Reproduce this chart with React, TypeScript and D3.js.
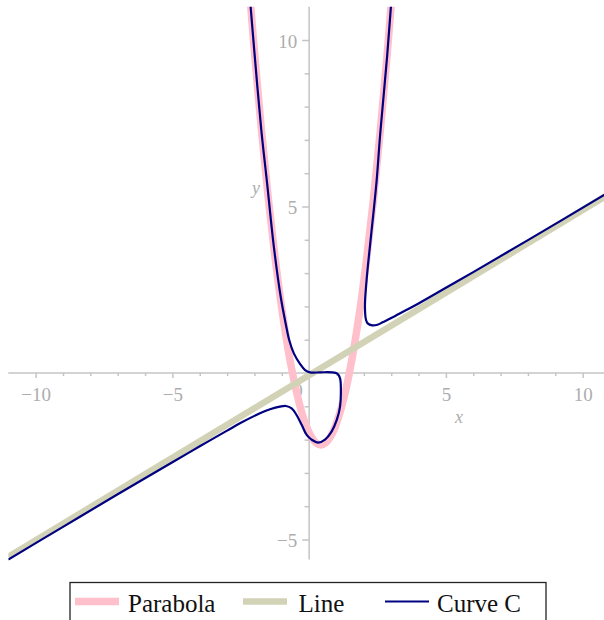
import React, { useEffect, useRef } from 'react';
import * as d3 from 'd3';

// values (x, y in plot units)
const parabolaPoints: [number, number][] = [
  [-2.2, 11.67], [-2.0, 9.65], [-1.75, 7.35], [-1.5, 5.29], [-1.25, 3.49],
  [-1.0, 1.93], [-0.75, 0.62], [-0.5, -0.43], [-0.25, -1.24], [0, -1.79],
  [0.25, -2.1], [0.43, -2.16], [0.6, -2.1], [0.85, -1.81], [1.1, -1.26],
  [1.35, -0.47], [1.6, 0.58], [1.85, 1.87], [2.1, 3.42], [2.35, 5.21],
  [2.6, 7.26], [2.85, 9.55], [3.1, 12.1],
];

const linePoints: [number, number][] = [[-11, -5.52], [11, 5.39]];

const curveCMain: [number, number][] = [
  [-2.2, 11.6], [-2.0, 9.62], [-1.75, 7.3], [-1.54, 5.72], [-1.29, 3.79],
  [-1.04, 2.29], [-0.85, 1.45], [-0.73, 0.99], [-0.56, 0.59], [-0.33, 0.27],
  [-0.15, 0.09], [0.03, 0.02], [0.4, 0.02], [0.82, 0.02], [1.03, -0.02],
  [1.13, -0.16], [1.16, -0.51], [1.13, -1.01], [1.01, -1.41], [0.82, -1.76],
  [0.58, -2.0], [0.33, -2.09], [0.09, -2.0], [-0.09, -1.86], [-0.27, -1.56],
  [-0.46, -1.26], [-0.64, -1.06], [-0.85, -0.99], [-1.07, -1.01], [-1.43, -1.09],
  [-1.8, -1.21], [-2.53, -1.51], [-3.0, -1.73], [-4.0, -2.2], [-5.0, -2.68],
  [-7.0, -3.64], [-9.0, -4.62], [-11.0, -5.6],
];

const curveCRight: [number, number][] = [
  [3.1, 12.0], [2.99, 11.0], [2.85, 9.5], [2.6, 7.2], [2.47, 5.8],
  [2.35, 4.8], [2.22, 3.79], [2.1, 2.79], [2.04, 1.99], [2.08, 1.59],
  [2.14, 1.49], [2.3, 1.43], [2.5, 1.45], [2.7, 1.53], [3.0, 1.65],
  [3.5, 1.87], [4.0, 2.09], [5.0, 2.56], [6.0, 3.03], [8.0, 3.99], [11.0, 5.45],
];

const xMajorTicks = [-10, -5, 5, 10];
const yMajorTicks = [-5, 5, 10];
const legendLabels = ['Parabola', 'Line', 'Curve C'];
const legendColors = ['#ffc0cb', '#d2d2b6', '#000080'];
const legendWidths = [7.5, 6.5, 2.2];

const W = 604;
const H = 620;

const fmt = (d: number) => (d < 0 ? '\u2212' + Math.abs(d) : String(d));

export default function App() {
  const svgRef = useRef<SVGSVGElement>(null);

  useEffect(() => {
    if (!svgRef.current) return;
    const svg = d3.select(svgRef.current);
    svg.selectAll('*').remove();

    const x = d3.scaleLinear().domain([-11, 11]).range([8.3, 610]);
    const y = d3.scaleLinear().domain([-5.6, 11]).range([559.5, 6.7]);

    const axisColor = '#c4c4c4';
    const labelColor = '#adadad';
    const serif = '"Liberation Serif", "DejaVu Serif", serif';

    // axes
    const axes = svg.append('g');
    axes.append('line')
      .attr('x1', x(-11)).attr('x2', x(11)).attr('y1', y(0)).attr('y2', y(0))
      .attr('stroke', axisColor).attr('stroke-width', 1.5);
    axes.append('line')
      .attr('x1', x(0)).attr('x2', x(0)).attr('y1', y(-5.6)).attr('y2', y(11))
      .attr('stroke', axisColor).attr('stroke-width', 1.5);

    const xMinor = d3.range(-10, 11).filter(v => v !== 0 && v % 5 !== 0);
    const yMinor = d3.range(-5, 11).filter(v => v !== 0 && v % 5 !== 0);

    const gxMinor = axes.append('g').attr('transform', `translate(0,${y(0)})`)
      .call(d3.axisBottom(x).tickValues(xMinor).tickSize(3).tickFormat(() => ''));
    const gx = axes.append('g').attr('transform', `translate(0,${y(0)})`)
      .call(d3.axisBottom(x).tickValues(xMajorTicks).tickSize(5).tickFormat(d => fmt(+d)));
    const gyMinor = axes.append('g').attr('transform', `translate(${x(0)},0)`)
      .call(d3.axisLeft(y).tickValues(yMinor).tickSize(4.5).tickFormat(() => ''));
    const gy = axes.append('g').attr('transform', `translate(${x(0)},0)`)
      .call(d3.axisLeft(y).tickValues(yMajorTicks).tickSize(7).tickFormat(d => fmt(+d)));

    [gxMinor, gx, gyMinor, gy].forEach(g => {
      g.select('.domain').remove();
      g.selectAll('line').attr('stroke', axisColor).attr('stroke-width', 1.5);
      g.selectAll('text').attr('fill', labelColor).attr('font-family', serif).attr('font-size', 19);
    });
    gx.selectAll('text').attr('y', 28).attr('dy', null);
    gy.selectAll('text').attr('x', -12).attr('dy', 7);

    axes.append('text').attr('x', 298).attr('y', 397).attr('text-anchor', 'middle')
      .attr('fill', labelColor).attr('font-family', serif).attr('font-size', 19).text('0');
    axes.append('text').attr('x', 459).attr('y', 423).attr('text-anchor', 'middle')
      .attr('fill', labelColor).attr('font-family', serif).attr('font-style', 'italic')
      .attr('font-size', 18).text('x');
    axes.append('text').attr('x', 256).attr('y', 194).attr('text-anchor', 'middle')
      .attr('fill', labelColor).attr('font-family', serif).attr('font-style', 'italic')
      .attr('font-size', 18).text('y');

    // curves
    svg.append('defs').append('clipPath').attr('id', 'plot-clip')
      .append('rect').attr('x', x(-11)).attr('y', y(11))
      .attr('width', x(11) - x(-11)).attr('height', y(-5.6) - y(11) + 3);

    const path = d3.line<[number, number]>()
      .x(d => x(d[0])).y(d => y(d[1]))
      .curve(d3.curveCatmullRom.alpha(0.5));

    const plot = svg.append('g').attr('clip-path', 'url(#plot-clip)');
    const series: [number, number][][][] = [[parabolaPoints], [linePoints], [curveCMain, curveCRight]];
    series.forEach((parts, i) => {
      parts.forEach(pts => {
        plot.append('path').attr('d', path(pts))
          .attr('fill', 'none').attr('stroke', legendColors[i])
          .attr('stroke-width', legendWidths[i]).attr('stroke-linejoin', 'round');
      });
    });

    // legend
    const legend = svg.append('g');
    legend.append('rect').attr('x', 70).attr('y', 582.5).attr('width', 476).attr('height', 60)
      .attr('fill', '#fff').attr('stroke', '#222').attr('stroke-width', 1.3);
    const swatchX = [75, 243, 385];
    const textX = [128, 298.5, 437];
    legendLabels.forEach((label, i) => {
      legend.append('line').attr('x1', swatchX[i]).attr('x2', swatchX[i] + 44)
        .attr('y1', 601.5).attr('y2', 601.5)
        .attr('stroke', legendColors[i]).attr('stroke-width', legendWidths[i]);
      legend.append('text').attr('x', textX[i]).attr('y', 611.5)
        .attr('font-family', serif).attr('font-size', 25).attr('fill', '#111').text(label);
    });
  }, []);

  return (
    <div style={{ position: 'absolute', left: 0, top: 0 }}>
      <svg ref={svgRef} width={W} height={H} style={{ display: 'block', background: '#fff' }} />
    </div>
  );
}
